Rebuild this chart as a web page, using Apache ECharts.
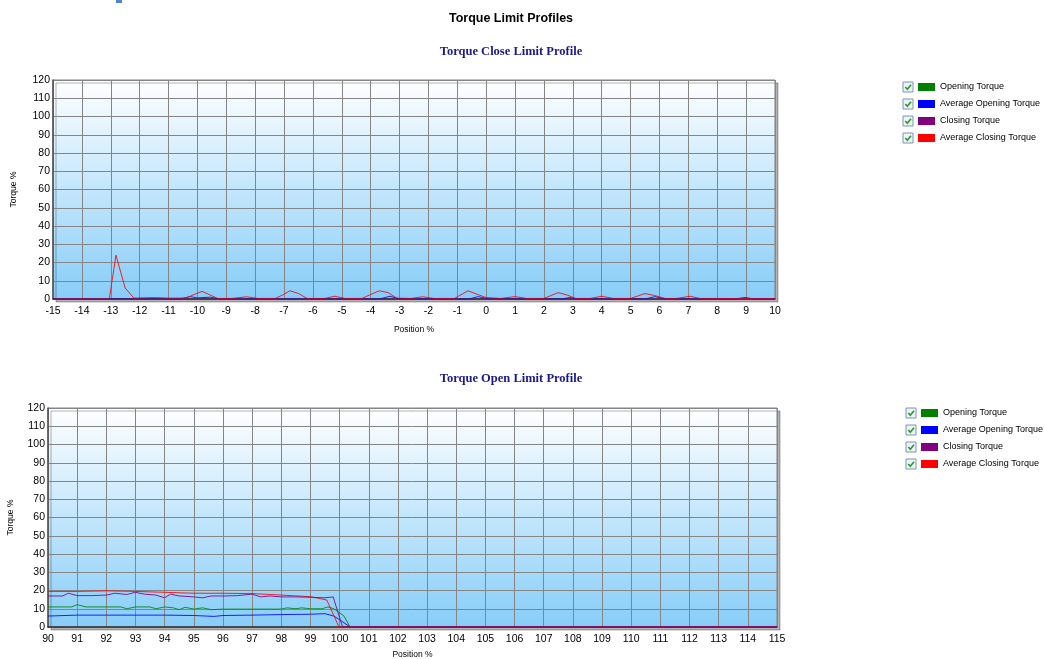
<!DOCTYPE html>
<html><head><meta charset="utf-8">
<script src="https://cdn.jsdelivr.net/npm/echarts@6/dist/echarts.min.js"></script>
<style>html,body{margin:0;padding:0;background:#fff}#c{width:1044px;height:659px}</style>
</head><body><div id="c"></div>
<script>
// ---- Data ----
const seriesNames = ['Opening Torque','Average Opening Torque','Closing Torque','Average Closing Torque'];
const seriesColors = ['#008000','#0000ff','#800080','#ff0000'];
const yTicks = [0,10,20,30,40,50,60,70,80,90,100,110,120];

// Close limit profile (position -15..10)
const closeOpening = [[-15,0],[10,0]];
const closeAvgOpening = [[-15,0],[-10.6,0],[-10.25,1.3],[-10,0.6],[-9.56,1.0],[-9.2,0],[-3.7,0],[-3.33,1.5],[-3.0,0],[-0.6,0],[-0.28,1.3],[0.1,0],[2.6,0],[2.9,0.8],[3.2,0],[5.5,0],[5.85,1.3],[6.2,0],[8.6,0],[8.96,0.8],[9.3,0],[10,0]];
const closeClosing = [[-15,0],[10,0]];
const closeAvgClosing = [[-15,0],[-13.05,0],[-12.82,24],[-12.5,6],[-12.2,0.5],[-11.5,0.8],[-11,0.5],[-10.4,0.5],[-10.15,2.2],[-9.84,4.2],[-9.6,2.5],[-9.3,0.3],[-8.8,0.3],[-8.3,1.2],[-7.9,0.3],[-7.3,0.3],[-7.05,2.2],[-6.8,4.5],[-6.5,3],[-6.2,0.3],[-5.6,0.3],[-5.24,1.5],[-4.9,0.3],[-4.3,0.3],[-4.0,2.5],[-3.7,4.5],[-3.4,3.5],[-3.1,0.5],[-2.6,0.3],[-2.2,1.2],[-1.8,0.3],[-1.1,0.3],[-0.63,4.5],[-0.3,2.5],[0,0.8],[0.5,0.3],[1.0,1.3],[1.4,0.3],[2.0,0.3],[2.49,3.5],[2.8,2.2],[3.1,0.3],[3.6,0.3],[4.0,1.5],[4.4,0.3],[5.0,0.3],[5.5,3.0],[5.8,2.0],[6.2,0.3],[6.6,0.3],[7.06,1.5],[7.4,0.3],[10,0.2]];

// Open limit profile (position 90..115)
const openOpening = [[90,11],[90.5,11],[90.8,11],[91,12.2],[91.3,11],[92,11],[92.5,11],[92.7,10],[93,11],[93.5,11],[93.7,10],[94,11],[94.3,10.5],[94.5,9.5],[94.7,10.8],[95,9.8],[95.3,10.5],[95.6,9.5],[96,9.8],[96.5,9.8],[97,9.8],[97.5,9.8],[98,9.8],[98.2,10.5],[98.5,10],[98.7,10.5],[99,10],[99.4,10],[99.6,11],[99.8,10],[99.95,8.4],[100.15,6],[100.36,0],[115,0]];
const openAvgOpening = [[90,6],[91,6.5],[92,6.5],[93,6.5],[94,6.5],[95,6.3],[95.7,5.8],[96,6.3],[97,6.5],[98,6.8],[99,7],[99.5,7.3],[99.8,6],[100,4],[100.36,0],[115,0]];
const openClosing = [[90,17],[90.5,17],[90.7,18.5],[91,17.2],[91.5,17.2],[92,17.5],[92.3,18.5],[92.7,17.8],[93,19],[93.3,18],[93.7,17.5],[94,16],[94.2,18],[94.5,17],[95,16.5],[95.3,16],[95.6,17],[96,17],[96.5,17.2],[97,18],[97.3,16.5],[97.6,17],[98,16.5],[98.5,16.5],[99,16.3],[99.5,16],[99.78,16.5],[100.1,0],[115,0]];
const openAvgClosing = [[90,19.5],[91,19.5],[92,19.8],[93,19.5],[94,19],[95,18.5],[96,18.5],[97,18.3],[98,17.5],[99,16.6],[99.56,14.8],[99.98,0],[115,0]];

const closeData = [closeOpening, closeAvgOpening, closeClosing, closeAvgClosing];
const openData = [openOpening, openAvgOpening, openClosing, openAvgClosing];

// ---- Chart ----
const chart = echarts.init(document.getElementById('c'));
const bg = new echarts.graphic.LinearGradient(0,0,0,1,[{offset:0,color:'#ffffff'},{offset:1,color:'#87cdf8'}]);
const gridBase = {show:true, backgroundColor:bg, borderColor:'#808080', borderWidth:1,
  shadowColor:'rgba(0,0,0,0.3)', shadowBlur:0, shadowOffsetX:3, shadowOffsetY:3,
  outerBoundsMode:'none', containLabel:false};
const lblFont = {fontFamily:'Liberation Sans, Arial, sans-serif', fontSize:10.5, color:'#000'};
const seriesZ = [3,4,6,5];

function xAxis(gi, min, max){
  return {type:'value', gridIndex:gi, min, max, interval:1,
    axisLine:{show:true, onZero:false, lineStyle:{color:'#303030', width:1.5}},
    axisTick:{show:false},
    axisLabel:Object.assign({margin:7, showMinLabel:true, showMaxLabel:true}, lblFont),
    splitLine:{show:true, lineStyle:{color:'#858585', width:1}},
    name:'Position %', nameLocation:'middle', nameGap: gi===0?26:23,
    nameTextStyle:{fontFamily:'Liberation Sans, Arial, sans-serif', fontSize:8.5, color:'#000'}};
}
function yAxis(gi, gap){
  return {type:'value', gridIndex:gi, min:0, max:120, interval:10,
    axisLine:{show:true, onZero:false, lineStyle:{color:'#505050', width:1.5}},
    axisTick:{show:false},
    axisLabel:Object.assign({margin:3}, lblFont),
    splitLine:{show:true, lineStyle:{color:'#858585', width:1}},
    name:'Torque %', nameLocation:'middle', nameGap:gap, nameRotate:90,
    nameTextStyle:{fontFamily:'Liberation Sans, Arial, sans-serif', fontSize:8.5, color:'#000'}};
}

const series = [];
[closeData, openData].forEach((set, gi) => {
  set.forEach((d, i) => {
    series.push({name:seriesNames[i], type:'line', xAxisIndex:gi, yAxisIndex:gi,
      data:d, showSymbol:false, symbol:'none', smooth:false,
      lineStyle:{color:seriesColors[i], width:1, opacity:0.85},
      itemStyle:{color:seriesColors[i]}, z:seriesZ[i]});
  });
});

function legend(left, top){
  return {orient:'vertical', left, top, padding:0, itemWidth:17, itemHeight:8, itemGap:7, icon:'rect',
    data:seriesNames, selectedMode:false,
    textStyle:{fontFamily:'Liberation Sans, Arial, sans-serif', fontSize:9, color:'#000', lineHeight:10}};
}

function checkbox(x, y){
  return {type:'group', x, y, children:[
    {type:'rect', shape:{x:0,y:0,width:10,height:10}, style:{fill:'#eef3f8', stroke:'#7b96b5', lineWidth:1}},
    {type:'polyline', shape:{points:[[2.3,5],[4.3,7.3],[8,2.7]]}, style:{fill:null, stroke:'#2a9a2a', lineWidth:1.6}}
  ]};
}
const graphics = [{type:'rect', shape:{x:116,y:0,width:6,height:3}, style:{fill:'#4f82d2'}}];
[82,99,116,133].forEach(y=>graphics.push(checkbox(903,y)));
[408,425,442,459].forEach(y=>graphics.push(checkbox(906,y)));

chart.setOption({
  animation:false,
  title:[
    {text:'Torque Limit Profiles', left:506, top:7, textAlign:'center',
      textStyle:{fontFamily:'Liberation Sans, Arial, sans-serif', fontSize:12.5, fontWeight:'bold', color:'#000'}},
    {text:'Torque Close Limit Profile', left:506, top:40, textAlign:'center',
      textStyle:{fontFamily:'Liberation Serif, Times New Roman, serif', fontSize:12.5, fontWeight:'bold', color:'#1a1a8a'}},
    {text:'Torque Open Limit Profile', left:506, top:367, textAlign:'center',
      textStyle:{fontFamily:'Liberation Serif, Times New Roman, serif', fontSize:12.5, fontWeight:'bold', color:'#1a1a8a'}}
  ],
  grid:[
    Object.assign({left:53, top:80, width:722, height:219}, gridBase),
    Object.assign({left:48, top:408, width:729, height:219}, gridBase)
  ],
  xAxis:[xAxis(0,-15,10), xAxis(1,90,115)],
  yAxis:[yAxis(0,35), yAxis(1,33)],
  legend:[legend(918,82), legend(921,408)],
  series,
  graphic:graphics
});
</script></body></html>
